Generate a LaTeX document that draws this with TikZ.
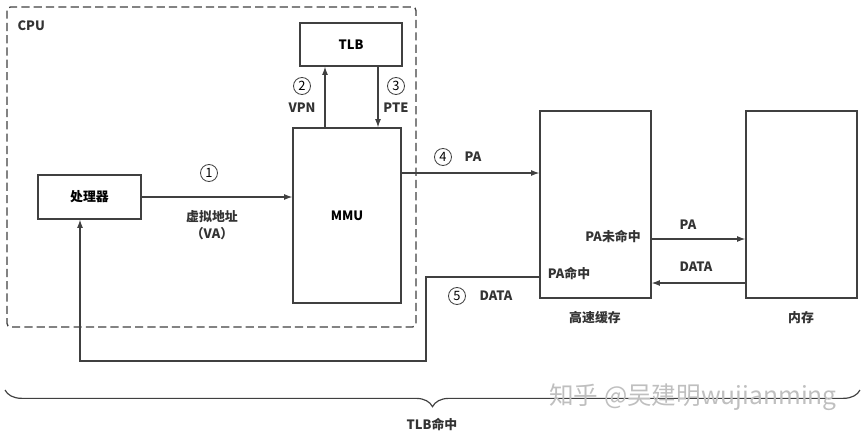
\documentclass[tikz,border=0pt]{standalone}
\usepackage{fontspec}
\setmainfont{Noto Sans CJK SC}
\usetikzlibrary{arrows.meta, decorations.pathreplacing}

\begin{document}
\begin{tikzpicture}[
  x=0.03cm, y=-0.03cm,
  line width=1pt, draw=black!75,
  blk/.style={draw, rectangle, inner sep=0pt, font=\bfseries\fontsize{11}{13}\selectfont},
  arr/.style={-{Latex[length=7pt, width=5pt]}},
  lbl/.style={font=\bfseries\fontsize{11}{13}\selectfont, text=black!80, inner sep=0pt},
  num/.style={draw, circle, minimum size=0.51cm, inner sep=0pt, line width=0.7pt,
              font=\fontsize{11}{13}\selectfont}
]
\useasboundingbox (0,0) rectangle (865,434);
% CPU
\draw[dash pattern=on 7pt off 3.5pt, line width=1.1pt, rounded corners=3pt] (7,7) rectangle (416,327);
\node[lbl, anchor=west] (cpulbl) at (17,26) {CPU};
\node[blk, minimum width=3.09cm, minimum height=1.32cm] (proc) at (89.5,197) {处理器};
\node[blk, minimum width=3.06cm, minimum height=1.29cm] (tlb) at (351,44.5) {TLB};
\node[blk, minimum width=3.24cm, minimum height=5.25cm] (mmu) at (347,215.5) {MMU};
\node[blk, minimum width=3.33cm, minimum height=5.61cm] (cache) at (595.5,204.5) {};
\node[blk, minimum width=3.33cm, minimum height=5.61cm] (mem) at (801.5,204.5) {};
\node[lbl] (cachelbl) at (595,318) {高速缓存};
\node[lbl] (memlbl) at (801,318) {内存};

% arrows
\draw[arr] (proc) -- (proc -| mmu.west);
\draw[arr] ([xshift=-0.66cm]mmu.north) -- ([xshift=-0.66cm]mmu.north |- tlb.south);
\draw[arr] ([xshift=0.93cm]mmu.north |- tlb.south) -- ([xshift=0.93cm]mmu.north);
\draw[arr] ([yshift=1.275cm]mmu.east) -- ([yshift=1.275cm]mmu.east -| cache.west);
\draw[arr] ([yshift=-1.035cm]cache.east) -- ([yshift=-1.035cm]cache.east -| mem.west);
\draw[arr] ([yshift=-2.355cm]mem.west) -- ([yshift=-2.355cm]mem.west -| cache.east);
\coordinate (bend) at (426,361);
\draw[arr] ([yshift=-2.175cm]cache.west) -| (bend) -| ([xshift=-0.285cm]proc.south);

% labels
\node[num] (n1) at (209,173) {1};
\node[lbl] (va1) at (212,217) {虚拟地址};
\node[lbl] (va2) at (212,234) {（VA）};
\node[num] (n2) at (302,86) {2};
\node[lbl] (vpn) at (302,108) {VPN};
\node[num] (n3) at (396,86) {3};
\node[lbl] (pte) at (396,108) {PTE};
\node[num] (n4) at (443,157) {4};
\node[lbl] (pa1) at (473,157) {PA};
\node[lbl] (miss) at (613,236) {PA未命中};
\node[lbl] (pa2) at (688,225) {PA};
\node[lbl] (data1) at (696,267) {DATA};
\node[lbl] (hit) at (569,273) {PA命中};
\node[num] (n5) at (457,296) {5};
\node[lbl] (data2) at (496,296) {DATA};

% brace
\coordinate (bl) at (5,390);
\coordinate (br) at (860,390);
\draw[decorate, decoration={brace, mirror, amplitude=0.5cm}] (bl) -- (br);
\node[lbl] (hitlbl) at (432,424) {TLB命中};
\node[text=black!25, font=\fontsize{21}{24}\selectfont, inner sep=0pt] (wm) at (693,397) {知乎 @吴建明wujianming};
\end{tikzpicture}
\end{document}
